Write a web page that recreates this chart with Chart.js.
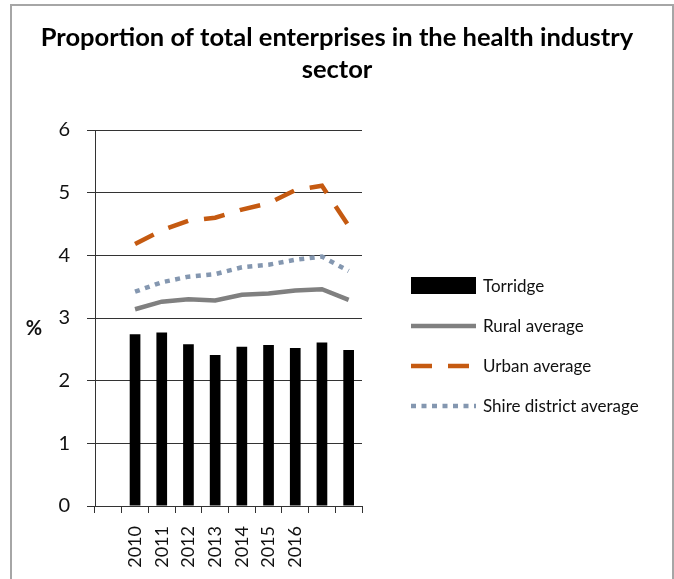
<!DOCTYPE html>
<html>
<head>
<meta charset="utf-8">
<script src="https://cdn.jsdelivr.net/npm/chart.js@4"></script>
<style>
  html, body { margin: 0; padding: 0; background: #fff; }
  #wrap { position: relative; width: 674px; height: 579px; overflow: hidden; }
  #frame {
    position: absolute; left: 10px; top: 4px; width: 660px; height: 600px;
    border-left: 2px solid #a6a6a6; border-top: 2px solid #a6a6a6; border-right: 2px solid #a6a6a6;
  }
  canvas { position: absolute; left: 0; top: 0; }
</style>
</head>
<body>
<div id="wrap">
  <div id="frame"></div>
  <canvas id="chart" width="674" height="579"></canvas>
</div>
<script>
// DATA
const years = ["", "2010", "2011", "2012", "2013", "2014", "2015", "2016", "", ""];
const torridge = [null, 2.74, 2.77, 2.58, 2.41, 2.54, 2.57, 2.52, 2.61, 2.49];
const rural = [null, 3.14, 3.26, 3.30, 3.28, 3.37, 3.39, 3.44, 3.46, 3.29];
const urban = [null, 4.18, 4.40, 4.55, 4.60, 4.73, 4.83, 5.04, 5.11, 4.47];
const shire = [null, 3.42, 3.57, 3.66, 3.70, 3.81, 3.85, 3.93, 3.98, 3.75];
const yTicks = [0, 1, 2, 3, 4, 5, 6];

const FONT = "Lato, 'Open Sans', sans-serif";

// legend + "%" label, drawn after the chart
const extras = {
  id: "extras",
  afterDraw(chart) {
    const ctx = chart.ctx;
    ctx.save();
    // % label
    ctx.fillStyle = "#111";
    ctx.font = "bold 20px " + FONT;
    ctx.textAlign = "center";
    ctx.textBaseline = "middle";
    ctx.fillText("%", 34, 329);

    // legend
    const rows = [286, 326, 366, 406];
    const x0 = 411, x1 = 476;
    chart.data.datasets.forEach((ds, i) => {
      const y = rows[i];
      if (ds.type === "bar") {
        ctx.fillStyle = ds.backgroundColor;
        ctx.fillRect(x0, y - 9, x1 - x0, 17);
      } else {
        ctx.strokeStyle = ds.borderColor;
        ctx.lineWidth = ds.borderWidth;
        ctx.setLineDash(ds.borderDash || []);
        ctx.lineCap = "butt";
        ctx.beginPath();
        ctx.moveTo(x0, y);
        ctx.lineTo(x1, y);
        ctx.stroke();
        ctx.setLineDash([]);
      }
      ctx.fillStyle = "#111";
      ctx.font = "17px " + FONT;
      ctx.textAlign = "left";
      ctx.textBaseline = "middle";
      ctx.fillText(ds.label, 483, y + 1);
    });
    ctx.restore();
  },
};

new Chart(document.getElementById("chart"), {
  data: {
    labels: years,
    datasets: [
      {
        type: "bar",
        label: "Torridge",
        data: torridge,
        backgroundColor: "#000000",
        barPercentage: 0.4,
        categoryPercentage: 1.0,
        order: 2,
      },
      {
        type: "line",
        label: "Rural average",
        data: rural,
        borderColor: "#808080",
        borderWidth: 4.5,
        pointRadius: 0,
        tension: 0,
        order: 1,
      },
      {
        type: "line",
        label: "Urban average",
        data: urban,
        borderColor: "#C55A11",
        borderWidth: 4.5,
        borderDash: [21, 16],
        pointRadius: 0,
        tension: 0,
        order: 1,
      },
      {
        type: "line",
        label: "Shire district average",
        data: shire,
        borderColor: "#8497B0",
        borderWidth: 4.5,
        borderDash: [5, 5.5],
        pointRadius: 0,
        tension: 0,
        order: 1,
      },
    ],
  },
  options: {
    responsive: false,
    animation: false,
    layout: { padding: { left: 0, right: 0, top: 0, bottom: 0 } },
    plugins: {
      legend: { display: false },
      tooltip: { enabled: false },
      title: {
        display: true,
        text: ["Proportion of total enterprises in the health industry", "sector"],
        color: "#000",
        font: { family: FONT, size: 25.5, weight: "bold", lineHeight: 32 / 25.5 },
        padding: { top: 22, bottom: 44 },
      },
    },
    scales: {
      x: {
        offset: true,
        grid: { display: true, drawOnChartArea: false, offset: true, tickLength: 7, color: "#333" },
        border: { display: true, color: "#333" },
        ticks: {
          color: "#111",
          font: { family: FONT, size: 18 },
          minRotation: 90,
          maxRotation: 90,
          padding: 13,
          autoSkip: false,
        },
        afterFit(s) { s.height = 73; },
      },
      y: {
        min: 0,
        max: 6,
        afterBuildTicks(s) { s.ticks = yTicks.map((v) => ({ value: v })); },
        grid: { color: "#333", tickLength: 8 },
        border: { display: true, color: "#333" },
        ticks: { color: "#111", font: { family: FONT, size: 20 }, padding: 17 },
        afterFit(s) { s.width = 95; },
      },
      yRight: {
        position: "right",
        display: true,
        grid: { display: false, drawOnChartArea: false },
        border: { display: false },
        ticks: { display: false },
        afterFit(s) { s.width = 312; },
      },
    },
  },
  plugins: [extras],
});
</script>
</body>
</html>
